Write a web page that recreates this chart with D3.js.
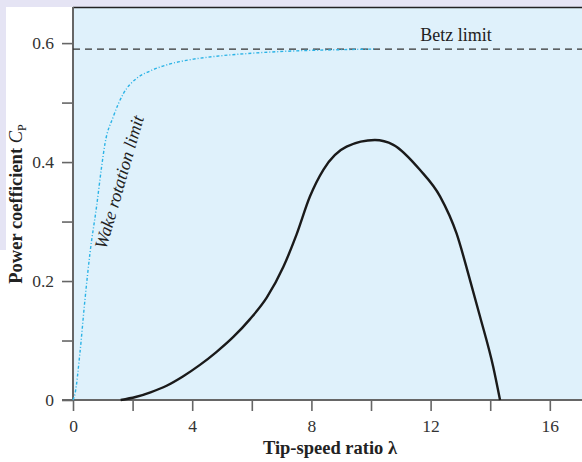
<!DOCTYPE html>
<html>
<head>
<meta charset="utf-8">
<script src="https://cdn.jsdelivr.net/npm/d3@7"></script>
<style>
  body { margin: 0; background: #ffffff; }
  svg { display: block; font-family: "Liberation Serif", "DejaVu Serif", serif; }
</style>
</head>
<body>
<svg id="chart" width="582" height="462"></svg>
<script>
// tip-speed ratio vs power coefficient
const cpLambda = [1.6, 2.1, 2.6, 3.14, 3.7, 4.26, 4.82, 5.38, 5.94, 6.5, 7.06, 7.5, 7.95, 8.4, 9.18, 10.13, 10.75, 11.64, 12.32, 12.87, 13.32, 13.66, 14.1, 14.33];
const cpValues = [0, 0.005, 0.013, 0.024, 0.04, 0.059, 0.081, 0.106, 0.136, 0.172, 0.224, 0.278, 0.342, 0.387, 0.426, 0.437, 0.429, 0.387, 0.342, 0.28, 0.202, 0.14, 0.056, 0];

const wakeLambda = [0, 0.07, 0.23, 0.4, 0.57, 0.79, 0.96, 1.07, 1.35, 1.69, 2.14, 2.58, 3.26, 4.04, 4.82, 6, 7.5, 9, 10.1];
const wakeValues = [0, 0.011, 0.078, 0.168, 0.247, 0.325, 0.392, 0.43, 0.476, 0.515, 0.541, 0.553, 0.565, 0.573, 0.578, 0.583, 0.587, 0.589, 0.59];

const betzLimit = 0.59;

const xTicks = [0, 2, 4, 6, 8, 10, 12, 14, 16];
const xLabels = [0, 4, 8, 12, 16];
const yTicks = [0, 0.1, 0.2, 0.3, 0.4, 0.5, 0.6];
const yLabels = [0, 0.2, 0.4, 0.6];

const svg = d3.select("#chart");
const width = +svg.attr("width");
const height = +svg.attr("height");
const margin = { top: 7, right: 0, bottom: 62, left: 73 };
const chartWidth = width - margin.left - margin.right;
const chartHeight = height - margin.top - margin.bottom;

// lavender frame round the white panel
svg.append("rect").attr("x", 0).attr("y", 0).attr("width", width).attr("height", 7).attr("fill", "#e5e4f4");
svg.append("rect").attr("x", 0).attr("y", 0).attr("width", 6).attr("height", 250).attr("fill", "#e5e4f4");

const xScale = d3.scaleLinear().domain([0, 17.08]).range([0, chartWidth]);
const yScale = d3.scaleLinear().domain([0, 0.6607]).range([chartHeight, 0]);

const chartArea = svg.append("g").attr("transform", `translate(${margin.left},${margin.top})`);

chartArea.append("rect")
    .attr("width", chartWidth)
    .attr("height", chartHeight)
    .attr("fill", "#dff1fb");

chartArea.append("line")
    .attr("x1", 0).attr("x2", chartWidth)
    .attr("y1", 0.5).attr("y2", 0.5)
    .attr("stroke", "#222").attr("stroke-width", 1.5);

// axes
const xAxis = d3.axisBottom(xScale)
    .tickValues(xTicks)
    .tickSize(11)
    .tickPadding(9)
    .tickFormat((d) => (xLabels.includes(d) ? d : ""));
const yAxis = d3.axisLeft(yScale)
    .tickValues(yTicks)
    .tickSize(11)
    .tickPadding(8)
    .tickFormat((d) => (yLabels.some((v) => Math.abs(v - d) < 1e-9) ? (d === 0 ? "0" : d3.format(".1f")(d)) : ""));

const xAxisGroup = chartArea.append("g")
    .attr("transform", `translate(0,${chartHeight})`)
    .call(xAxis);
const yAxisGroup = chartArea.append("g").call(yAxis);

[xAxisGroup, yAxisGroup].forEach((g) => {
    g.select(".domain").remove();
    g.selectAll(".tick line").attr("stroke", "#666").attr("stroke-width", 1.6);
    g.selectAll(".tick text")
        .attr("fill", "#333")
        .attr("font-family", "'Liberation Serif', serif")
        .attr("font-size", 17.5);
});

chartArea.append("line")
    .attr("x1", 0).attr("x2", 0)
    .attr("y1", 0).attr("y2", chartHeight)
    .attr("stroke", "#666").attr("stroke-width", 2);
chartArea.append("line")
    .attr("x1", -11).attr("x2", chartWidth)
    .attr("y1", chartHeight).attr("y2", chartHeight)
    .attr("stroke", "#666").attr("stroke-width", 2);

// Betz limit
chartArea.append("line")
    .attr("x1", 0).attr("x2", chartWidth)
    .attr("y1", yScale(betzLimit)).attr("y2", yScale(betzLimit))
    .attr("stroke", "#333")
    .attr("stroke-width", 1.2)
    .attr("stroke-dasharray", "7,5");

chartArea.append("text")
    .attr("x", xScale(12.85))
    .attr("y", yScale(betzLimit) - 8)
    .attr("text-anchor", "middle")
    .attr("fill", "#222")
    .style("font-size", "18px")
    .text("Betz limit");

// wake rotation limit
const wakeData = wakeLambda.map((l, i) => ({ x: l, y: wakeValues[i] }));
const line = d3.line()
    .x((d) => xScale(d.x))
    .y((d) => yScale(d.y))
    .curve(d3.curveMonotoneX);

chartArea.append("path")
    .datum(wakeData)
    .attr("d", line)
    .attr("fill", "none")
    .attr("stroke", "#2bb3e6")
    .attr("stroke-width", 1.4)
    .attr("stroke-dasharray", "3,2,1,2");

chartArea.append("text")
    .attr("transform", `translate(${119 - margin.left},${182 - margin.top}) rotate(-74)`)
    .attr("text-anchor", "middle")
    .attr("dy", "0.35em")
    .attr("fill", "#222")
    .style("font-style", "italic")
    .style("font-size", "18px")
    .text("Wake rotation limit");

// power coefficient curve
const cpData = cpLambda.map((l, i) => ({ x: l, y: cpValues[i] }));
chartArea.append("path")
    .datum(cpData)
    .attr("d", line)
    .attr("fill", "none")
    .attr("stroke", "#1a1a1a")
    .attr("stroke-width", 2.4);

// axis titles
svg.append("text")
    .attr("x", 330)
    .attr("y", 454)
    .attr("text-anchor", "middle")
    .attr("fill", "#222")
    .style("font-weight", "bold")
    .style("font-size", "18.5px")
    .text("Tip-speed ratio λ");

const yTitle = svg.append("text")
    .attr("transform", "translate(22,204) rotate(-90)")
    .attr("text-anchor", "middle")
    .attr("fill", "#222")
    .style("font-weight", "bold")
    .style("font-size", "18.5px");
yTitle.append("tspan").text("Power coefficient ");
yTitle.append("tspan").style("font-style", "italic").style("font-weight", "normal").text("C");
yTitle.append("tspan").attr("dy", 4).style("font-size", "12px").style("font-weight", "normal").text("P");
</script>
</body>
</html>
